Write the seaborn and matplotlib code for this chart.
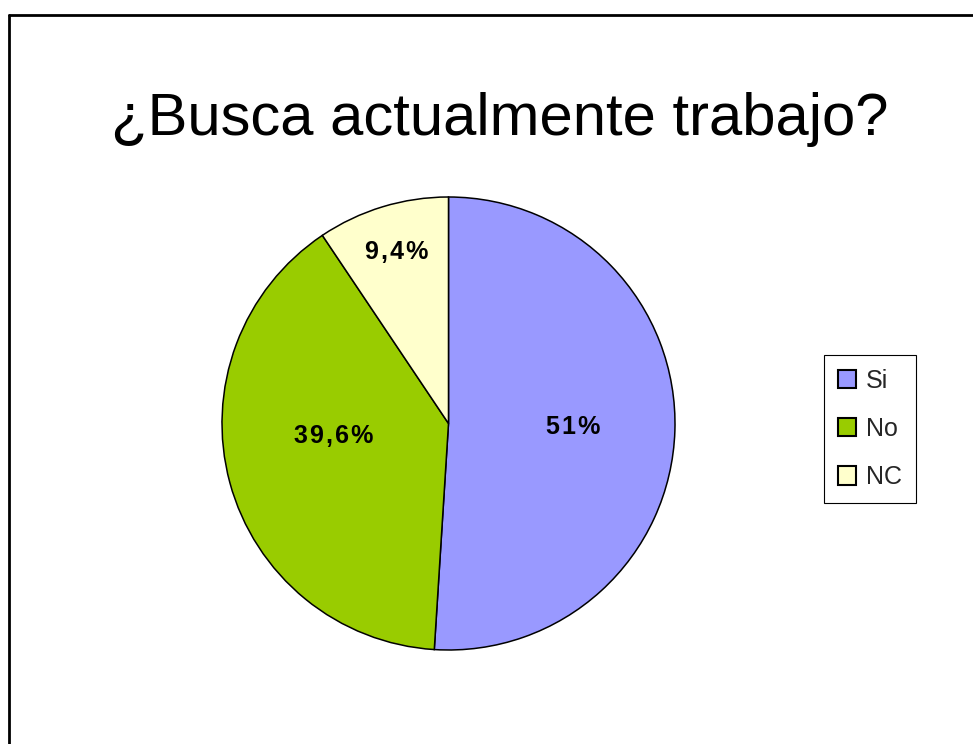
import numpy as np
import seaborn as sns
import matplotlib
matplotlib.use("Agg")
import matplotlib.pyplot as plt
from matplotlib.lines import Line2D

# Data
categories = ["Si", "No", "NC"]
values = [51.0, 39.6, 9.4]
value_labels = ["51%", "39,6%", "9,4%"]
colors = ["#9999FF", "#99CC00", "#FFFFCC"]

sns.set_theme(style="white")
plt.rcParams["font.family"] = ["Liberation Sans", "DejaVu Sans"]

fig = plt.figure(figsize=(9.73, 7.44), dpi=100)
fig.patch.set_facecolor("white")

# pie axes placed so the circle lands where it is in the reference
ax = fig.add_axes([222 / 973, 94 / 744, 453 / 973, 453 / 744])
wedges, _ = ax.pie(
    values,
    colors=colors,
    startangle=90,
    counterclock=False,
    wedgeprops=dict(edgecolor="black", linewidth=1.1),
)
ax.set_xlim(-1, 1)
ax.set_ylim(-1, 1)
ax.set_aspect("equal")
ax.axis("off")

# value labels, Excel-style placement (slightly letter-spaced)
label_r = [0.55, 0.51, 0.79]
label_shift = [0, -9, 0]
for w, txt, r, d in zip(wedges, value_labels, label_r, label_shift):
    mid = np.deg2rad((w.theta1 + w.theta2) / 2 + d)
    ax.text(r * np.cos(mid), r * np.sin(mid), "\u200a".join(txt),
            ha="center", va="center",
            fontsize=18, fontweight="bold", color="black")

# title
fig.text(500 / 973, 1 - 135 / 744, "¿Busca actualmente trabajo?",
         ha="center", va="baseline", fontsize=43, color="black")

# legend
leg = fig.legend(
    wedges, categories,
    loc="upper left",
    bbox_to_anchor=(824 / 973, 1 - 355 / 744),
    borderaxespad=0,
    fontsize=18,
    frameon=True,
    fancybox=False,
    edgecolor="black",
    framealpha=1,
    handlelength=0.74,
    handleheight=0.74,
    handletextpad=0.4,
    labelspacing=0.97,
    borderpad=0.55,
)
leg.get_frame().set_linewidth(0.8)
for h in leg.legend_handles:
    h.set_linewidth(1.5)

# page border lines (left and top)
fig.add_artist(Line2D([8.5 / 973, 1], [1 - 15 / 744, 1 - 15 / 744],
                      transform=fig.transFigure, color="black", linewidth=2))
fig.add_artist(Line2D([8.5 / 973, 8.5 / 973], [0, 1 - 15 / 744],
                      transform=fig.transFigure, color="black", linewidth=2))

fig.savefig("out.png", dpi=100)
